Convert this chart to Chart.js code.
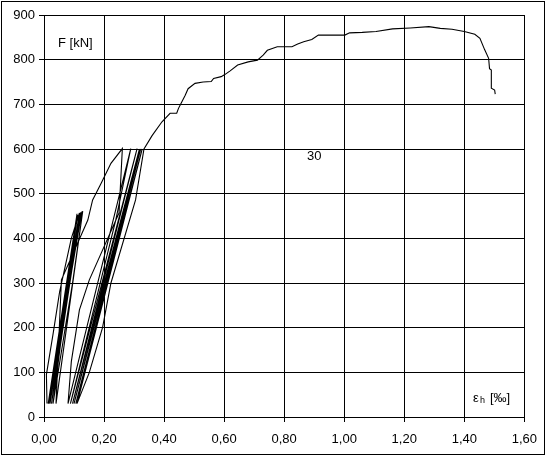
<!DOCTYPE html>
<html>
<head>
<meta charset="utf-8">
<script src="https://cdn.jsdelivr.net/npm/chart.js@4/dist/chart.umd.min.js"></script>
<style>
  html, body { margin: 0; padding: 0; background: #fff; }
  #contenedor { position: absolute; left: 0; top: 0; width: 547px; height: 457px; }
</style>
</head>
<body>
<div id="contenedor"><canvas id="grafico" width="547" height="457"></canvas></div>
<script>
const deformacion = [
    0.010, 0.008, 0.030, 0.052, 0.091, 0.118,
    0.016, 0.075, 0.112, 0.020, 0.122, 0.025, 0.060, 0.126, 0.014, 0.110, 0.030, 0.095, 0.129, 0.040,
    0.058, 0.146, 0.162, 0.190, 0.223, 0.261,
    0.250, 0.151, 0.118, 0.091, 0.080,
    0.289, 0.239, 0.088, 0.310, 0.095, 0.318, 0.100, 0.322, 0.106, 0.327, 0.110,
    0.151, 0.195, 0.223, 0.305, 0.333,
    0.360, 0.393, 0.420, 0.442, 0.448, 0.455, 0.470, 0.480, 0.503, 0.530, 0.557,
    0.565, 0.590, 0.601, 0.620, 0.645, 0.680, 0.711, 0.730, 0.744, 0.777, 0.826,
    0.845, 0.865, 0.892, 0.914, 1.002, 1.018, 1.060, 1.106, 1.161, 1.220, 1.282,
    1.320, 1.359, 1.400, 1.435, 1.452, 1.468, 1.481, 1.484, 1.490, 1.490, 1.501, 1.503
];
const fuerza = [
    30, 95, 185, 280, 400, 457,
    30, 290, 452, 30, 458, 30, 200, 460, 30, 455, 30, 300, 461, 30,
    307, 441, 486, 523, 568, 601,
    457, 307, 240, 124, 30,
    601, 441, 30, 601, 30, 600, 30, 600, 30, 600, 30,
    100, 200, 300, 486, 600,
    630, 661, 680, 680, 691, 700, 720, 735, 747, 750, 751,
    758, 762, 766, 775, 788, 795, 799, 810, 821, 829, 829,
    835, 840, 845, 855, 855, 860, 861, 863, 869, 871, 874,
    870, 868, 863, 857, 848, 822, 803, 780, 777, 736, 732, 723
];

const fuente = 'Arial, "Liberation Sans", sans-serif';

// Marco exterior y textos sueltos
const extras = {
    id: 'extras',
    afterDraw(chart) {
        const ctx = chart.ctx;
        ctx.save();
        ctx.strokeStyle = '#000';
        ctx.lineWidth = 1;
        ctx.strokeRect(1.5, 1.5, 543, 453);

        ctx.fillStyle = '#000';
        ctx.textBaseline = 'alphabetic';
        ctx.font = '13px ' + fuente;
        ctx.fillText('F [kN]', 58, 47);
        ctx.fillText('30', 307, 160);

        ctx.fillText('\u03B5', 473, 402);
        ctx.font = '9px ' + fuente;
        ctx.fillText('h', 480, 403);
        ctx.font = '13px ' + fuente;
        ctx.fillText('[\u2030]', 490, 402);
        ctx.restore();
    }
};

const ctx = document.getElementById('grafico').getContext('2d');

new Chart(ctx, {
    type: 'scatter',
    data: {
        datasets: [{
            data: deformacion.map((x, i) => ({ x: x, y: fuerza[i] })),
            showLine: true,
            borderColor: '#000',
            borderWidth: 1.1,
            pointRadius: 0,
            tension: 0,
        }],
    },
    options: {
        responsive: false,
        animation: false,
        layout: { padding: { top: 15, right: 17, bottom: 0, left: 0 } },
        plugins: {
            legend: { display: false },
            tooltip: { enabled: false },
        },
        scales: {
            x: {
                type: 'linear',
                min: 0,
                max: 1.6,
                afterFit: (escala) => { escala.height = 40; },
                ticks: {
                    stepSize: 0.2,
                    color: '#000',
                    font: { family: fuente, size: 13 },
                    padding: 10,
                    maxRotation: 0,
                    callback: (v) => v.toFixed(2).replace('.', ','),
                },
                grid: { color: '#000', lineWidth: 1, tickLength: 5 },
                border: { color: '#000' },
            },
            y: {
                min: 0,
                max: 900,
                afterFit: (escala) => { escala.width = 44; },
                ticks: {
                    stepSize: 100,
                    color: '#000',
                    font: { family: fuente, size: 13 },
                    padding: 4,
                },
                grid: { color: '#000', lineWidth: 1, tickLength: 5 },
                border: { color: '#000' },
            },
        },
    },
    plugins: [extras],
});
</script>
</body>
</html>
